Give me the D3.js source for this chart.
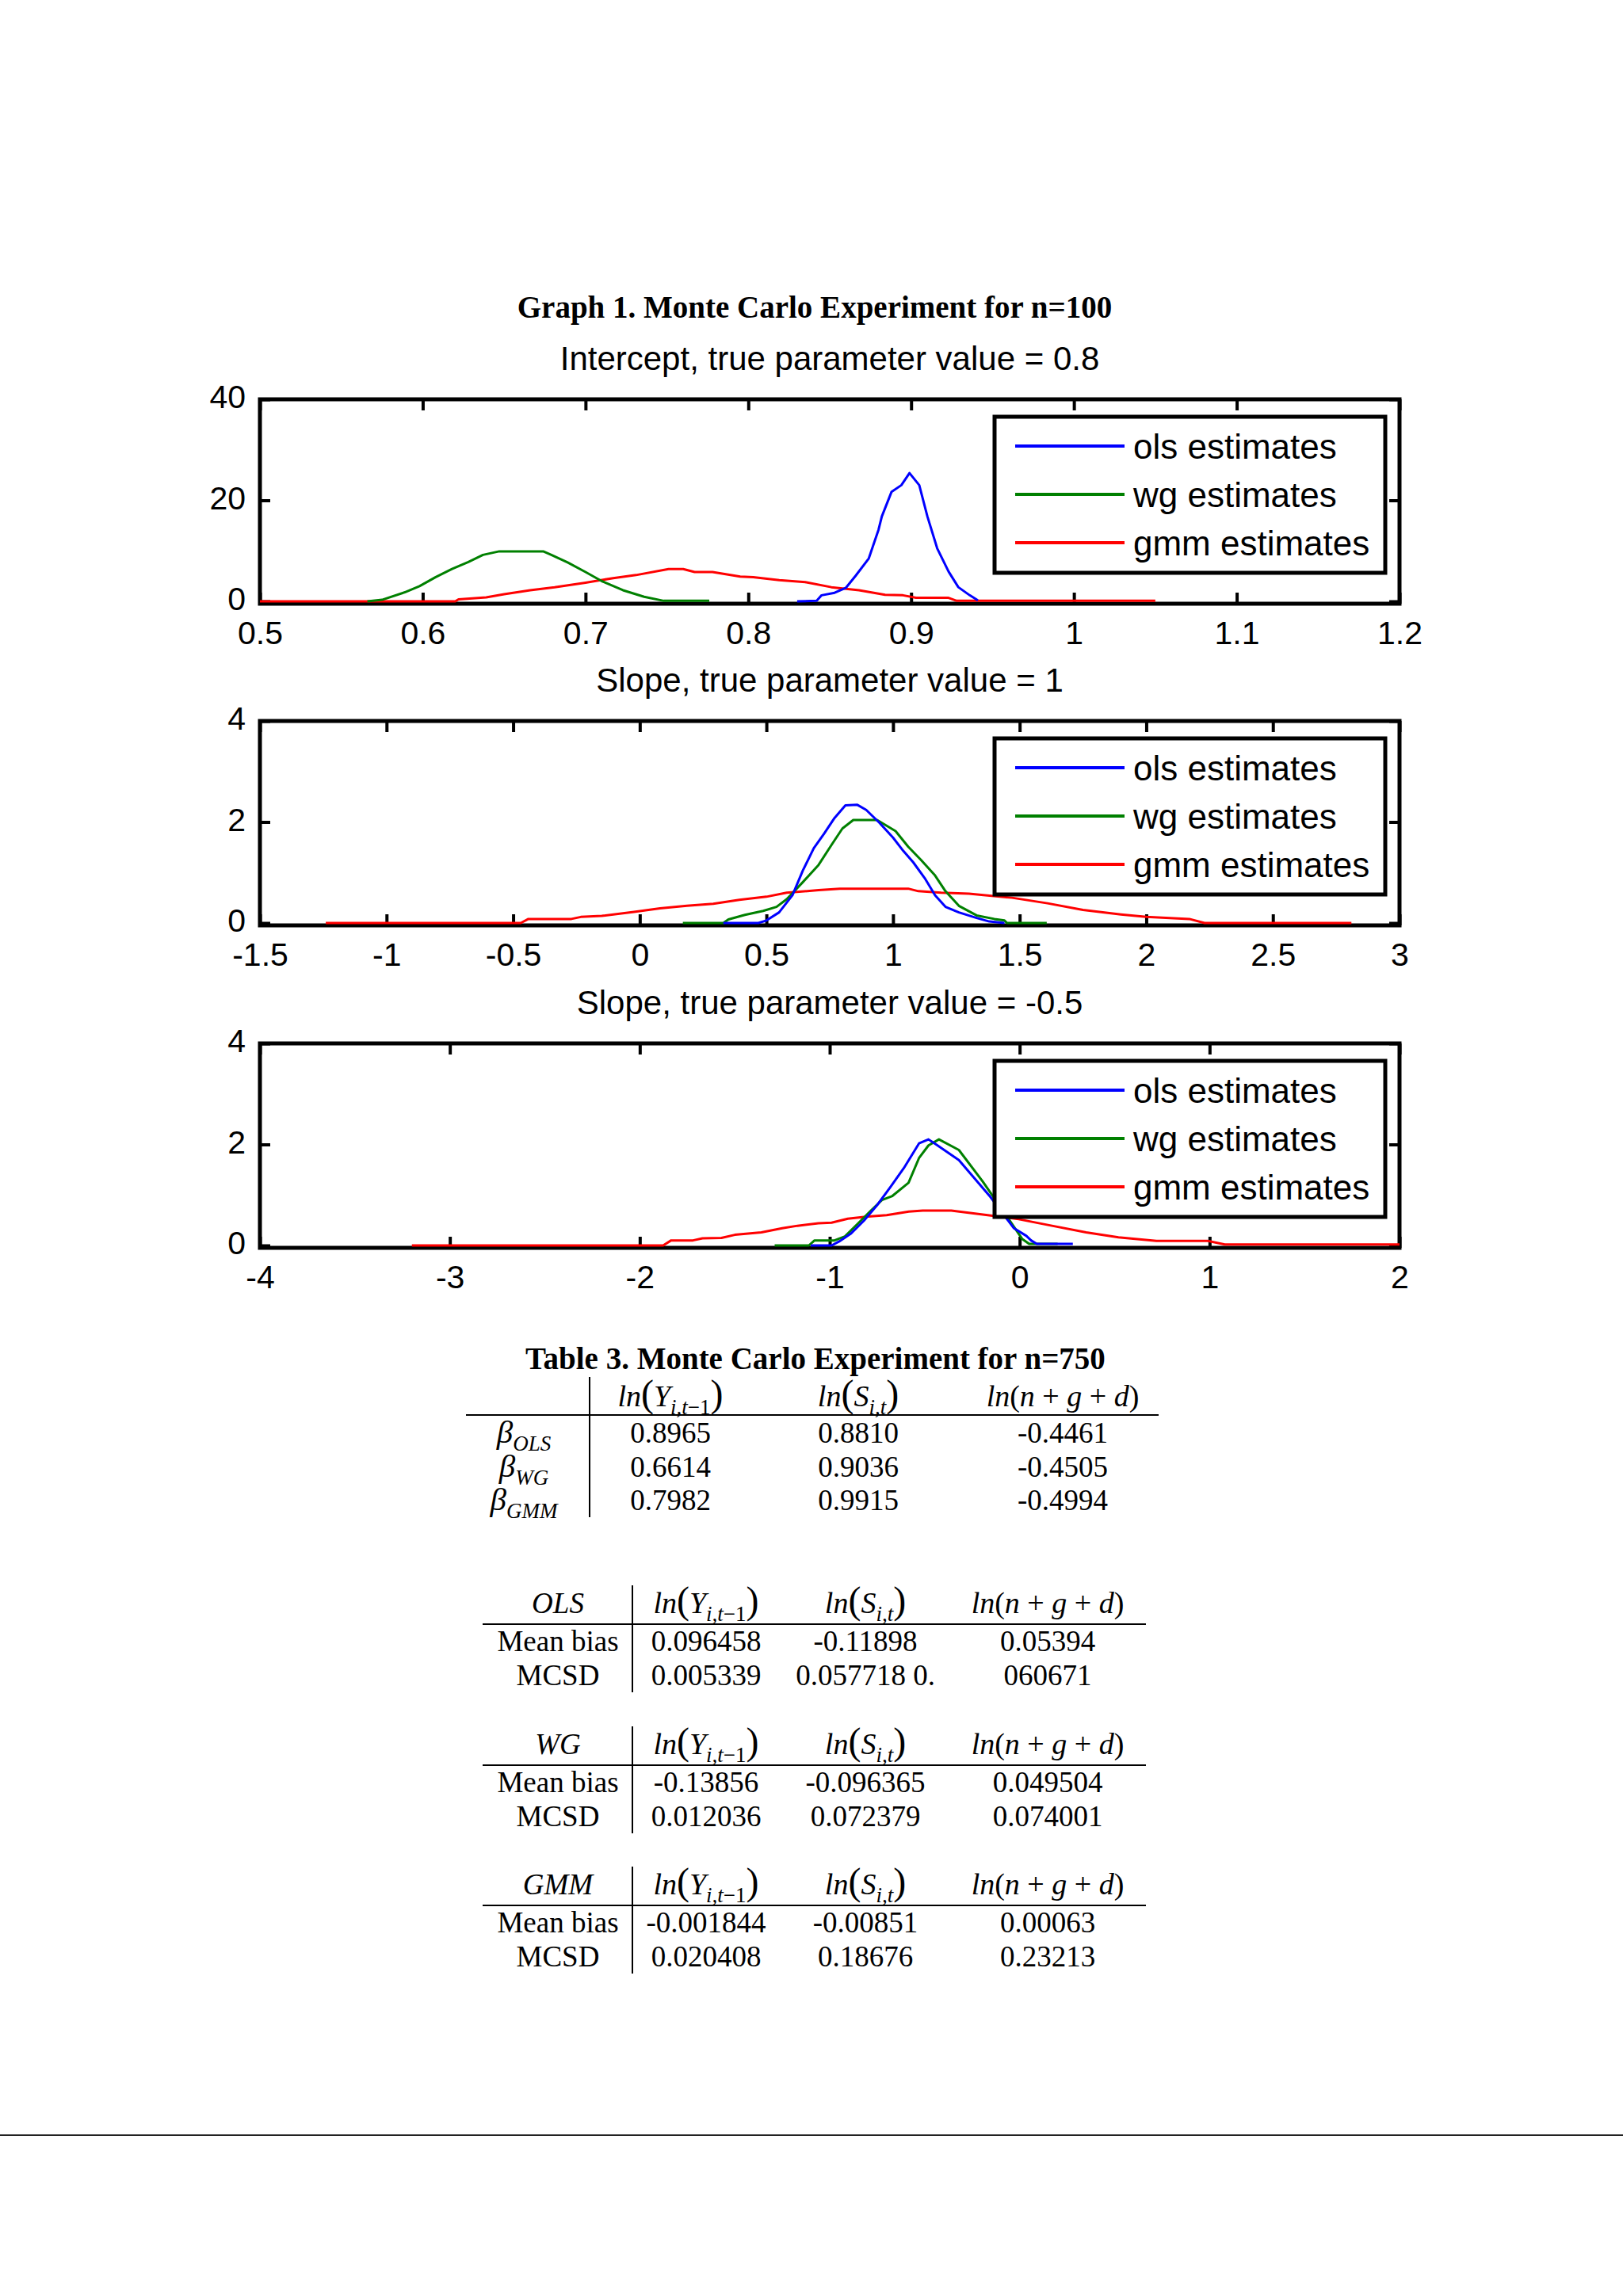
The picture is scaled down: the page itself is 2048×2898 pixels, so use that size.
<!DOCTYPE html>
<html>
<head>
<meta charset="utf-8">
<script src="https://cdn.jsdelivr.net/npm/d3@7"></script>
<style>
  body { margin: 0; background: #ffffff; }
  svg { display: block; }
</style>
</head>
<body>
<div id="vis"></div>
<script>
// density curves, [estimate, density] pairs
const INTERCEPT_OLS = [[0.830,0],[0.842,0.1],[0.845,1.2],[0.853,1.7],[0.860,2.7],[0.866,5.1],[0.874,8.5],
  [0.880,14.2],[0.882,16.8],[0.888,21.7],[0.894,23.0],[0.899,25.4],[0.905,23.0],[0.910,16.8],[0.916,10.5],
  [0.923,5.9],[0.929,2.8],[0.936,1.2],[0.941,0.2]];
const INTERCEPT_WG = [[0.566,0],[0.575,0.3],[0.589,1.8],[0.598,3.0],[0.608,4.8],[0.618,6.4],[0.628,7.8],
  [0.637,9.2],[0.647,9.9],[0.674,9.9],[0.679,9.2],[0.689,7.7],[0.700,5.8],[0.710,4.0],[0.723,2.2],
  [0.736,0.9],[0.748,0.1],[0.776,0.1]];
const INTERCEPT_GMM = [[0.5,0],[0.62,0],[0.622,0.4],[0.639,0.8],[0.650,1.4],[0.666,2.2],[0.681,2.8],
  [0.700,3.7],[0.717,4.6],[0.731,5.2],[0.751,6.4],[0.760,6.4],[0.767,5.8],[0.778,5.8],[0.795,4.9],
  [0.803,4.8],[0.819,4.2],[0.835,3.8],[0.851,2.8],[0.868,2.2],[0.884,1.3],[0.895,1.2],[0.903,0.7],
  [0.923,0.7],[0.928,0.1],[1.05,0.1]];

const SLOPE1_OLS = [[0.33,0],[0.468,0],[0.50,0.05],[0.55,0.21],[0.603,0.55],[0.644,1.04],[0.687,1.48],
  [0.728,1.77],[0.769,2.08],[0.812,2.33],[0.859,2.34],[0.894,2.24],[0.947,1.98],[1.0,1.69],[1.04,1.43],
  [1.08,1.20],[1.125,0.89],[1.166,0.55],[1.207,0.32],[1.26,0.21],[1.33,0.1],[1.38,0.03],[1.44,0]];
const SLOPE1_WG = [[0.17,0],[0.33,0],[0.35,0.07],[0.415,0.16],[0.487,0.24],[0.54,0.32],[0.58,0.47],
  [0.644,0.81],[0.706,1.15],[0.759,1.56],[0.80,1.87],[0.843,2.04],[0.937,2.04],[1.01,1.82],[1.06,1.51],
  [1.11,1.25],[1.166,0.94],[1.207,0.63],[1.26,0.34],[1.33,0.15],[1.40,0.08],[1.44,0.05],[1.45,0],[1.607,0]];
const SLOPE1_GMM = [[-1.24,0],[-0.47,0],[-0.44,0.08],[-0.27,0.08],[-0.233,0.12],[-0.15,0.14],[-0.023,0.22],
  [0.08,0.29],[0.186,0.34],[0.29,0.38],[0.393,0.46],[0.50,0.52],[0.58,0.60],[0.706,0.65],[0.79,0.68],
  [1.06,0.68],[1.10,0.63],[1.19,0.60],[1.30,0.58],[1.47,0.50],[1.61,0.39],[1.75,0.26],[1.90,0.17],
  [2.0,0.12],[2.17,0.08],[2.23,0],[2.81,0]];

const SLOPE2_OLS = [[-1.10,0],[-0.99,0],[-0.95,0.08],[-0.89,0.23],[-0.82,0.49],[-0.75,0.80],[-0.68,1.16],
  [-0.61,1.53],[-0.53,2.02],[-0.48,2.10],[-0.44,2.0],[-0.32,1.69],[-0.154,0.96],[-0.03,0.34],[0.035,0.19],
  [0.06,0.1],[0.09,0.03],[0.28,0.03]];
const SLOPE2_WG = [[-1.29,0],[-1.11,0],[-1.08,0.1],[-0.975,0.1],[-0.92,0.18],[-0.85,0.44],[-0.78,0.70],
  [-0.725,0.90],[-0.67,0.98],[-0.585,1.24],[-0.53,1.73],[-0.48,1.98],[-0.425,2.10],[-0.32,1.89],
  [-0.195,1.27],[-0.07,0.59],[0.013,0.13],[0.05,0.03],[0.2,0.03]];
const SLOPE2_GMM = [[-3.2,0],[-1.877,0],[-1.835,0.10],[-1.72,0.10],[-1.67,0.14],[-1.57,0.15],[-1.50,0.21],
  [-1.36,0.26],[-1.25,0.34],[-1.17,0.39],[-1.06,0.44],[-0.99,0.45],[-0.905,0.53],[-0.81,0.57],[-0.70,0.60],
  [-0.584,0.67],[-0.51,0.69],[-0.36,0.69],[-0.21,0.62],[-0.005,0.52],[0.17,0.39],[0.35,0.26],[0.52,0.16],
  [0.72,0.09],[0.99,0.09],[1.08,0.02],[2.0,0.02]];

// axis ticks
const INTERCEPT_X_TICKS = [0.5, 0.6, 0.7, 0.8, 0.9, 1, 1.1, 1.2];
const INTERCEPT_Y_TICKS = [0, 20, 40];
const SLOPE1_X_TICKS = [-1.5, -1, -0.5, 0, 0.5, 1, 1.5, 2, 2.5, 3];
const SLOPE2_X_TICKS = [-4, -3, -2, -1, 0, 1, 2];
const SLOPE_Y_TICKS = [0, 2, 4];

const PANEL_TITLES = ["Intercept, true parameter value = 0.8",
                      "Slope, true parameter value = 1",
                      "Slope, true parameter value = -0.5"];
const LEGEND_LABELS = ["ols estimates", "wg estimates", "gmm estimates"];
const SERIES_COLORS = ["#0000ff", "#008000", "#ff0000"];

// table values
const BETA_LABELS = ["OLS", "WG", "GMM"];
const BETA_OLS = ["0.8965", "0.8810", "-0.4461"];
const BETA_WG = ["0.6614", "0.9036", "-0.4505"];
const BETA_GMM = ["0.7982", "0.9915", "-0.4994"];
const ROW_LABELS = ["Mean bias", "MCSD"];
const OLS_BIAS = ["0.096458", "-0.11898", "0.05394"];
const OLS_MCSD = ["0.005339", "0.057718 0.", "060671"];
const WG_BIAS = ["-0.13856", "-0.096365", "0.049504"];
const WG_MCSD = ["0.012036", "0.072379", "0.074001"];
const GMM_BIAS = ["-0.001844", "-0.00851", "0.00063"];
const GMM_MCSD = ["0.020408", "0.18676", "0.23213"];

// frame
const FRAME_WIDTH = 2048;
const FRAME_HEIGHT = 2898;
const AX_LEFT = 328;
const AX_RIGHT = 1766;
const AX_HEIGHT = 255;   // zero line sits a little above the box's bottom edge
const PANEL_TOPS = [504, 910, 1317];
const SANS = "'Liberation Sans', Arial, Helvetica, sans-serif";
const SERIF = "'Liberation Serif', 'Times New Roman', serif";

const SVG = d3.select("#vis")
              .append("svg")
                .attr("width", FRAME_WIDTH)
                .attr("height", FRAME_HEIGHT);

SVG.append("rect")
    .attr("width", FRAME_WIDTH)
    .attr("height", FRAME_HEIGHT)
    .attr("fill", "#ffffff");

SVG.append("text")
    .attr("x", 1028)
    .attr("y", 401)
    .attr("text-anchor", "middle")
    .attr("font-family", SERIF)
    .attr("font-weight", "bold")
    .attr("font-size", 39)
    .text("Graph 1. Monte Carlo Experiment for n=100");

const fmt = (d) => String(Math.round(d * 10) / 10);

// one MATLAB style panel
function drawPanel(top, title, xDomain, xTicks, yMax, yTicks, series) {
  const X_SCALE = d3.scaleLinear().domain(xDomain).range([AX_LEFT, AX_RIGHT]);
  const Y_SCALE = d3.scaleLinear().domain([0, yMax]).range([top + AX_HEIGHT, top]);
  const boxBottom = top + AX_HEIGHT + 3;

  const g = SVG.append("g");

  g.append("text")
      .attr("x", (AX_LEFT + AX_RIGHT) / 2)
      .attr("y", top - 37)
      .attr("text-anchor", "middle")
      .attr("font-family", SANS)
      .attr("font-size", 42)
      .text(title);

  // ticks point inward on all four sides
  g.append("g")
      .attr("transform", "translate(0," + boxBottom + ")")
      .call(d3.axisBottom(X_SCALE).tickValues(xTicks).tickFormat(fmt)
              .tickSizeInner(-14).tickSizeOuter(0).tickPadding(22));
  g.append("g")
      .attr("transform", "translate(0," + top + ")")
      .call(d3.axisTop(X_SCALE).tickValues(xTicks).tickFormat("")
              .tickSizeInner(-14).tickSizeOuter(0));
  const yAxis = g.append("g")
      .attr("transform", "translate(" + AX_LEFT + ",0)")
      .call(d3.axisLeft(Y_SCALE).tickValues(yTicks).tickFormat(fmt)
              .tickSizeInner(-13).tickSizeOuter(0).tickPadding(18));
  yAxis.selectAll(".tick text").attr("dy", "0.26em");
  g.append("g")
      .attr("transform", "translate(" + AX_RIGHT + ",0)")
      .call(d3.axisRight(Y_SCALE).tickValues(yTicks).tickFormat("")
              .tickSizeInner(-13).tickSizeOuter(0));

  g.selectAll(".domain").remove();
  g.selectAll(".tick line").attr("stroke", "#000").attr("stroke-width", 4);
  g.selectAll(".tick text")
      .attr("font-family", SANS)
      .attr("font-size", 41)
      .attr("fill", "#000");

  g.append("rect")
      .attr("x", AX_LEFT)
      .attr("y", top)
      .attr("width", AX_RIGHT - AX_LEFT)
      .attr("height", boxBottom - top)
      .attr("fill", "none")
      .attr("stroke", "#000")
      .attr("stroke-width", 5);

  const line = d3.line()
                 .x((d) => X_SCALE(d[0]))
                 .y((d) => Y_SCALE(d[1]));

  // gmm first so the narrow curves sit on top
  [2, 1, 0].forEach((i) => {
    g.append("path")
        .datum(series[i])
        .attr("d", line)
        .attr("fill", "none")
        .attr("stroke", SERIES_COLORS[i])
        .attr("stroke-width", 3)
        .attr("stroke-linejoin", "round");
  });

  // legend box
  const lg = g.append("g");
  lg.append("rect")
      .attr("x", 1255)
      .attr("y", top + 22)
      .attr("width", 493)
      .attr("height", 197)
      .attr("fill", "#ffffff")
      .attr("stroke", "#000")
      .attr("stroke-width", 5);
  LEGEND_LABELS.forEach((lab, i) => {
    const yy = top + 59 + i * 61;
    lg.append("line")
        .attr("x1", 1281).attr("x2", 1419)
        .attr("y1", yy).attr("y2", yy)
        .attr("stroke", SERIES_COLORS[i])
        .attr("stroke-width", 4);
    lg.append("text")
        .attr("x", 1430)
        .attr("y", yy)
        .attr("dy", "0.36em")
        .attr("font-family", SANS)
        .attr("font-size", 44)
        .text(lab);
  });
}

drawPanel(PANEL_TOPS[0], PANEL_TITLES[0], [0.5, 1.2], INTERCEPT_X_TICKS, 40, INTERCEPT_Y_TICKS,
          [INTERCEPT_OLS, INTERCEPT_WG, INTERCEPT_GMM]);
drawPanel(PANEL_TOPS[1], PANEL_TITLES[1], [-1.5, 3], SLOPE1_X_TICKS, 4, SLOPE_Y_TICKS,
          [SLOPE1_OLS, SLOPE1_WG, SLOPE1_GMM]);
drawPanel(PANEL_TOPS[2], PANEL_TITLES[2], [-4, 2], SLOPE2_X_TICKS, 4, SLOPE_Y_TICKS,
          [SLOPE2_OLS, SLOPE2_WG, SLOPE2_GMM]);

// ---- tables below the graph ----

// writes a run of pieces, each [text, italic?, sub?, size]
function mathText(x, y, pieces, size) {
  const t = SVG.append("text")
      .attr("x", x)
      .attr("y", y)
      .attr("text-anchor", "middle")
      .attr("font-family", SERIF)
      .attr("font-size", size);
  let shifted = 0;
  pieces.forEach((p) => {
    const want = p[2] ? 10 : 0;
    t.append("tspan")
        .attr("dy", want - shifted)
        .attr("font-style", p[1] ? "italic" : "normal")
        .attr("font-size", p[3] || size)
        .text(p[0]);
    shifted = want;
  });
  return t;
}

function headerY(x, y) {
  return mathText(x, y, [["ln", true], ["(", false, false, 48], ["Y", true],
                         ["i,t", true, true, 27], ["\u22121", false, true, 27],
                         [")", false, false, 48]], 38);
}
function headerS(x, y) {
  return mathText(x, y, [["ln", true], ["(", false, false, 48], ["S", true],
                         ["i,t", true, true, 27], [")", false, false, 48]], 38);
}
function headerN(x, y) {
  return mathText(x, y, [["ln", true], ["(", false], ["n", true], [" + ", false],
                         ["g", true], [" + ", false], ["d", true], [")", false]], 38);
}

function plainText(x, y, s, italic) {
  SVG.append("text")
      .attr("x", x)
      .attr("y", y)
      .attr("text-anchor", "middle")
      .attr("font-family", SERIF)
      .attr("font-size", 37)
      .attr("font-style", italic ? "italic" : "normal")
      .text(s);
}

function rule(x1, y1, x2, y2) {
  SVG.append("line")
      .attr("x1", x1).attr("y1", y1)
      .attr("x2", x2).attr("y2", y2)
      .attr("stroke", "#000")
      .attr("stroke-width", 2);
}

SVG.append("text")
    .attr("x", 1029)
    .attr("y", 1728)
    .attr("text-anchor", "middle")
    .attr("font-family", SERIF)
    .attr("font-weight", "bold")
    .attr("font-size", 39)
    .text("Table 3. Monte Carlo Experiment for n=750");

// coefficient table
const T1_COLS = [846, 1083, 1341];
const T1_ROWS = [1821, 1864, 1906];
headerY(T1_COLS[0], 1775);
headerS(T1_COLS[1], 1775);
headerN(T1_COLS[2], 1775);
rule(588, 1786, 1462, 1786);
rule(744, 1738, 744, 1915);
[BETA_OLS, BETA_WG, BETA_GMM].forEach((row, r) => {
  mathText(661, T1_ROWS[r], [["\u03b2", true], [BETA_LABELS[r], true, true, 27]], 41);
  row.forEach((v, c) => plainText(T1_COLS[c], T1_ROWS[r], v, false));
});

// bias / MCSD tables
const T2_COLS = [891, 1092, 1322];
const SMALL_TABLES = [
  {name: "OLS", top: 2036, rows: [OLS_BIAS, OLS_MCSD]},
  {name: "WG", top: 2214, rows: [WG_BIAS, WG_MCSD]},
  {name: "GMM", top: 2391, rows: [GMM_BIAS, GMM_MCSD]}
];
SMALL_TABLES.forEach((tb) => {
  plainText(704, tb.top, tb.name, true);
  headerY(T2_COLS[0], tb.top);
  headerS(T2_COLS[1], tb.top);
  headerN(T2_COLS[2], tb.top);
  rule(609, tb.top + 14, 1446, tb.top + 14);
  rule(798, tb.top - 35, 798, tb.top + 100);
  tb.rows.forEach((row, r) => {
    const yy = tb.top + 48 + r * 43;
    plainText(704, yy, ROW_LABELS[r], false);
    row.forEach((v, c) => plainText(T2_COLS[c], yy, v, false));
  });
});

// page rule near the bottom
SVG.append("line")
    .attr("x1", 0).attr("x2", FRAME_WIDTH)
    .attr("y1", 2695).attr("y2", 2695)
    .attr("stroke", "#222")
    .attr("stroke-width", 2);
</script>
</body>
</html>
